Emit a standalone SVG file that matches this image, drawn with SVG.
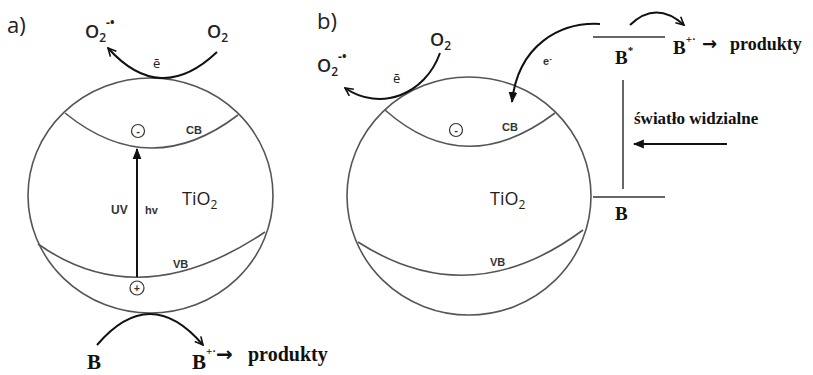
<svg xmlns="http://www.w3.org/2000/svg" width="813" height="375" viewBox="0 0 813 375">
<defs>
<marker id="open" viewBox="0 0 10 10" refX="9" refY="5" markerWidth="10" markerHeight="10" markerUnits="userSpaceOnUse" orient="auto">
<path d="M1,1 L9,5 L1,9" fill="none" stroke="#111" stroke-width="1.6"/>
</marker>
<marker id="fill" viewBox="0 0 10 10" refX="9" refY="5" markerWidth="11" markerHeight="11" markerUnits="userSpaceOnUse" orient="auto">
<path d="M0,1 L10,5 L0,9 Z" fill="#111"/>
</marker>
</defs>
<style>
.sh{fill:none;stroke:#555;stroke-width:1.6}
.ln{fill:none;stroke:#666;stroke-width:2}
.ar{fill:none;stroke:#111;stroke-width:2}
.sans{font-family:"Open Sans","Liberation Sans",sans-serif;fill:#222}
.lbl{font-family:"Liberation Sans",Arial,sans-serif;font-weight:bold;fill:#333}
.ser{font-family:"Liberation Serif","Times New Roman",serif;font-weight:bold;fill:#111}
.arr{font-family:"DejaVu Sans",sans-serif;font-weight:bold;fill:#111}
</style>
<rect width="813" height="375" fill="#fff"/>

<g id="panel-a">
<text class="sans" x="7" y="33" font-size="22" fill="#444">a)</text>
<g id="a-sphere">
<ellipse class="sh" cx="150.5" cy="195.5" rx="122.5" ry="117.5"/>
<path class="sh" d="M65,113 Q150,182 238,115"/>
<path class="sh" d="M38,244 Q140,316 265,232"/>
<text class="lbl" x="186" y="134" font-size="11">CB</text>
<text class="lbl" x="173" y="268" font-size="11">VB</text>
<text class="sans" x="182" y="205" font-size="18">TiO<tspan font-size="12" dy="4">2</tspan></text>
<circle cx="138" cy="131" r="6.5" fill="none" stroke="#333" stroke-width="1.2"/>
<text class="lbl" x="138" y="135" font-size="11" text-anchor="middle">-</text>
<circle cx="137" cy="288" r="7" fill="none" stroke="#333" stroke-width="1.2"/>
<text class="lbl" x="137" y="292" font-size="10" text-anchor="middle">+</text>
<text class="lbl" x="111" y="214" font-size="12">UV</text>
<text class="lbl" x="145" y="214" font-size="11">hv</text>
</g>
<g id="a-O2">
<text class="sans" x="207" y="38" font-size="18" font-weight="600">O<tspan font-size="12" dy="4">2</tspan></text>
</g>
<g id="a-O2rad">
<text class="sans" x="85" y="38" font-size="18" font-weight="600">O<tspan font-size="12" dy="4">2</tspan><tspan font-size="12" font-weight="bold" dy="-15">-•</tspan></text>
</g>
<text class="sans" x="153" y="68" font-size="13">ē</text>
<g id="a-B"><text class="ser" x="87" y="369" font-size="21">B</text></g>
<g id="a-Bplus"><text class="ser" x="192" y="369" font-size="21">B<tspan font-size="11" dy="-14">+·</tspan></text>
<text class="arr" x="216" y="361" font-size="20">→</text></g>
<g id="a-prod"><text class="ser" x="248" y="361" font-size="20">produkty</text></g>
</g>

<g id="panel-b">
<text class="sans" x="317" y="29" font-size="22" fill="#444">b)</text>
<g id="b-sphere">
<ellipse class="sh" cx="469" cy="196" rx="122" ry="119"/>
<path class="sh" d="M385,110 Q465,181 555,113"/>
<path class="sh" d="M358,242 Q470,314 583,230"/>
<text class="lbl" x="502" y="131" font-size="11">CB</text>
<text class="lbl" x="490" y="266" font-size="11">VB</text>
<text class="sans" x="490" y="205" font-size="18">TiO<tspan font-size="12" dy="4">2</tspan></text>
<circle cx="456" cy="130" r="6.5" fill="none" stroke="#333" stroke-width="1.2"/>
<text class="lbl" x="456" y="134" font-size="11" text-anchor="middle">-</text>
</g>
<g id="b-O2"><text class="sans" x="430" y="46" font-size="18" font-weight="600">O<tspan font-size="12" dy="4">2</tspan></text></g>
<g id="b-O2rad"><text class="sans" x="317" y="72" font-size="18" font-weight="600">O<tspan font-size="12" dy="4">2</tspan><tspan font-size="12" font-weight="bold" dy="-15">-•</tspan></text></g>
<text class="sans" x="393" y="83" font-size="13">ē</text>
<text class="lbl" x="543" y="65" font-size="11" fill="#222">e<tspan font-size="8" dy="-4">-</tspan></text>
<g id="b-levels">
<line class="ln" x1="593" y1="37" x2="665" y2="37"/>
<line class="ln" x1="593" y1="197" x2="665" y2="197"/>
<line class="ln" x1="623" y1="80" x2="623" y2="189"/>
</g>
<g id="b-Bstar"><text class="ser" x="615" y="64" font-size="19">B<tspan font-size="11" dy="-10">*</tspan></text></g>
<g id="b-B"><text class="ser" x="615" y="220" font-size="19">B</text></g>
<g id="b-Bplus"><text class="ser" x="673" y="54" font-size="19">B<tspan font-size="11" dy="-11">+·</tspan></text>
<text class="arr" x="702" y="50" font-size="18">→</text></g>
<g id="b-prod"><text class="ser" x="730" y="50" font-size="18">produkty</text></g>
<g id="b-light"><text class="ser" x="634" y="124" font-size="17">światło widzialne</text></g>
</g>

<g id="connectors">
<line class="ar" x1="137" y1="277" x2="137" y2="149" marker-end="url(#fill)"/>
<path class="ar" d="M217,52 Q160,106 108,48" marker-end="url(#open)"/>
<path class="ar" d="M97,345 Q150,283 203,345" marker-end="url(#open)"/>
<path class="ar" d="M440,53 C425,95 380,112 345,88" marker-end="url(#open)"/>
<path class="ar" d="M600,24 C560,22 518,45 512,102" marker-end="url(#fill)"/>
<path class="ar" d="M630,25 Q656,0 684,25" marker-end="url(#open)"/>
<line class="ar" x1="727" y1="144" x2="634" y2="144" marker-end="url(#fill)"/>
</g>
</svg>
